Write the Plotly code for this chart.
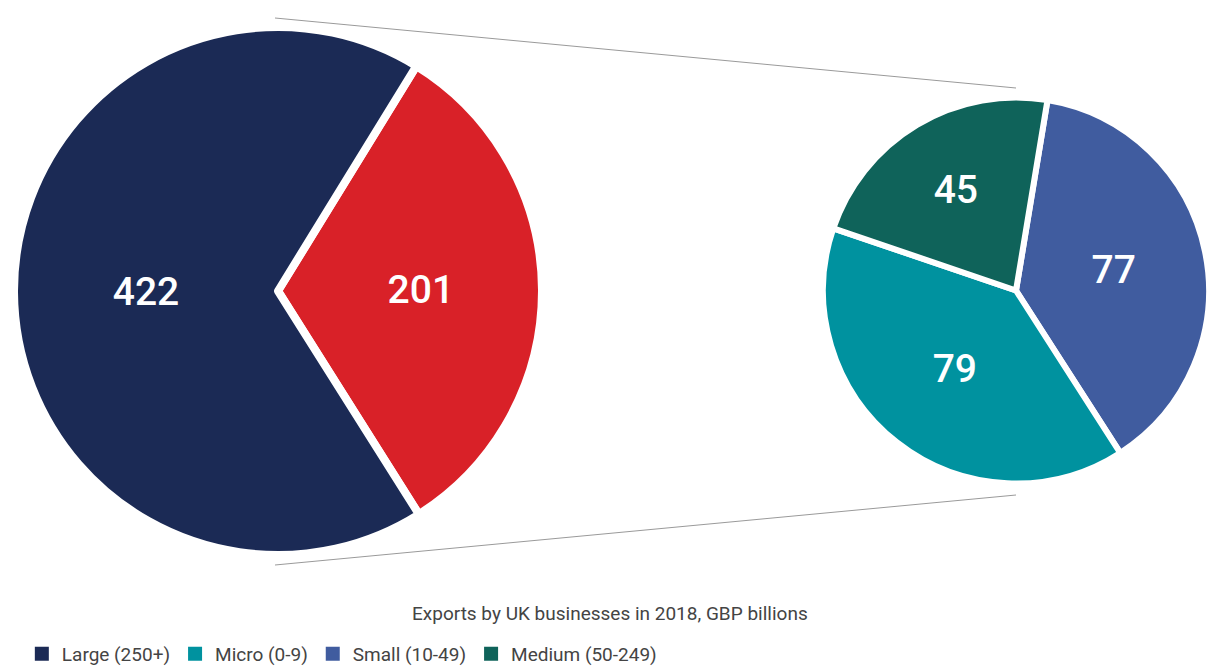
import plotly.graph_objects as go

# Exports by UK businesses in 2018, GBP billions
overview_labels = ["SME (0-249)", "Large (250+)"]
overview_values = [201, 422]
overview_colors = ["#d92128", "#1b2a55"]

sme_labels = ["Small (10-49)", "Micro (0-9)", "Medium (50-249)"]
sme_values = [77, 79, 45]
sme_colors = ["#405c9f", "#00929f", "#0f635a"]

legend_labels = ["Large (250+)", "Micro (0-9)", "Small (10-49)", "Medium (50-249)"]
legend_colors = ["#1b2a55", "#00929f", "#405c9f", "#0f635a"]

title_text = "Exports by UK businesses in 2018, GBP billions"

W, H = 1213, 666
FONT = "Roboto, Open Sans, sans-serif"

fig = go.Figure()

fig.add_trace(go.Pie(
    labels=overview_labels,
    values=overview_values,
    sort=False,
    direction="clockwise",
    rotation=31.6,
    marker=dict(colors=overview_colors, line=dict(color="white", width=8)),
    textinfo="value",
    textposition="inside",
    insidetextorientation="horizontal",
    insidetextfont=dict(color="white", size=39, family=FONT, weight=500),
    domain=dict(x=[14 / W, 542 / W], y=[(375 - 264) / H, (375 + 264) / H]),
    showlegend=False,
    hoverinfo="label+value",
))

fig.add_trace(go.Pie(
    labels=sme_labels,
    values=sme_values,
    sort=False,
    direction="clockwise",
    rotation=9.4,
    marker=dict(colors=sme_colors, line=dict(color="white", width=6)),
    textinfo="value",
    textposition="inside",
    insidetextorientation="horizontal",
    insidetextfont=dict(color="white", size=39, family=FONT, weight=500),
    domain=dict(x=[823 / W, 1209 / W], y=[182.5 / H, 568.5 / H]),
    showlegend=False,
    hoverinfo="label+value",
))

# Legend entries as marker-only traces on a hidden axis
for name, color in zip(legend_labels, legend_colors):
    fig.add_trace(go.Scatter(
        x=[None], y=[None], mode="markers", name=name,
        marker=dict(symbol="square", size=14, color=color),
        showlegend=True,
    ))

# Connector lines from the SME slice to the breakdown pie
def px(x, y):
    return x / W, 1 - y / H

for (x0, y0), (x1, y1) in [((275, 18), (1016, 88)), ((275, 565), (1016, 495))]:
    a0, b0 = px(x0, y0)
    a1, b1 = px(x1, y1)
    fig.add_shape(type="line", xref="paper", yref="paper",
                  x0=a0, y0=b0, x1=a1, y1=b1,
                  line=dict(color="#9a9a9a", width=1))

fig.add_annotation(
    text=title_text, xref="paper", yref="paper",
    x=609.5 / W, y=1 - 613 / H, xanchor="center", yanchor="middle",
    showarrow=False, font=dict(family=FONT, size=19, color="#444444"),
)

fig.update_layout(
    width=W, height=H,
    margin=dict(l=0, r=0, t=0, b=0, autoexpand=False),
    paper_bgcolor="white", plot_bgcolor="white",
    xaxis=dict(visible=False), yaxis=dict(visible=False),
    legend=dict(
        orientation="h", x=0.018, xanchor="left", y=1 - 654 / H, yanchor="middle",
        font=dict(family=FONT, size=19, color="#444444"),
        traceorder="normal", bgcolor="rgba(0,0,0,0)",
    ),
    showlegend=True,
)

fig.write_html("out.html")
